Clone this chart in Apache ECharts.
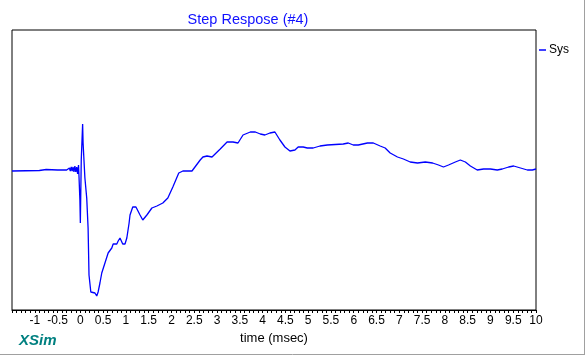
<!DOCTYPE html>
<html><head><meta charset="utf-8">
<script src="https://cdn.jsdelivr.net/npm/echarts@6/dist/echarts.min.js"></script>
<style>html,body{margin:0;padding:0;background:#fff}#c{width:588px;height:357px}</style>
</head><body><div id="c"></div>
<script>
const title = 'Step Respose (#4)';
const seriesName = 'Sys';
const xName = 'time (msec)';
const brand = 'XSim';
const timeMs = [-1.50,-0.90,-0.88,-0.75,-0.74,-0.50,-0.30,-0.28,-0.26,-0.24,-0.22,-0.20,-0.18,-0.16,-0.14,-0.12,-0.10,-0.08,-0.06,-0.04,-0.03,-0.01,0.00,0.02,0.05,0.06,0.10,0.14,0.17,0.19,0.23,0.27,0.32,0.36,0.39,0.43,0.47,0.54,0.61,0.69,0.72,0.80,0.83,0.87,0.93,0.98,1.02,1.07,1.09,1.15,1.22,1.31,1.37,1.46,1.57,1.68,1.81,1.92,2.03,2.16,2.25,2.45,2.63,2.69,2.78,2.89,3.07,3.22,3.35,3.46,3.57,3.73,3.84,3.95,4.05,4.16,4.27,4.38,4.49,4.60,4.71,4.78,4.89,4.98,5.11,5.26,5.42,5.77,5.88,5.99,6.10,6.30,6.43,6.58,6.69,6.80,6.96,7.09,7.24,7.40,7.57,7.73,7.86,7.97,8.08,8.23,8.34,8.45,8.56,8.71,8.85,9.00,9.15,9.26,9.40,9.51,9.66,9.81,9.92,10.0];
const response = [-1,-0.5,0.5,0.5,-0.5,0,0,1,-1,2,-1,3,-1,3,-2,4,-2,3,-4,5,-6,-30,-53,10,46,27,-8,-28,-58,-105,-122,-123,-123,-126,-122,-113,-103,-93,-83,-78,-74,-74,-71,-68,-74,-74,-68,-53,-45,-37,-37,-45,-50,-45,-38,-36,-33,-28,-17,-3,-1,-1,10,13,14,13,21,28,28,27,35,38,38,36,35,37,38,30,23,19,20,23,23,22,22,24,25,26,27,25,25,27,27,24,22,17,13,11,8,7,8,7,5,3,5,8,10,8,4,0,1,1,0,1,3,4,2,0,0,1];
const xTicks = {min: -1.5, max: 10, interval: 0.5};

const chart = echarts.init(document.getElementById('c'));
chart.setOption({
  animation: false,
  backgroundColor: '#fff',
  title: {text: title, left: 243, textAlign: 'center', top: 7,
    textStyle: {color: '#1010ff', fontFamily: 'Liberation Sans, Arial', fontSize: 14.5, fontWeight: 'normal'}},
  legend: {left: 534, top: 39, itemWidth: 7, itemHeight: 1.5, itemGap: 5, icon: 'rect',
    textStyle: {color: '#000', fontFamily: 'Liberation Sans, Arial', fontSize: 12, padding: [0,0,0,-2]}, data: [seriesName]},
  grid: {left: 12, right: 52, top: 30, bottom: 47, show: true, borderColor: '#000', borderWidth: 1},
  xAxis: {type: 'value', min: xTicks.min, max: xTicks.max, interval: xTicks.interval,
    name: xName, nameLocation: 'middle', nameGap: 20,
    nameTextStyle: {color: '#000', fontFamily: 'Liberation Sans, Arial', fontSize: 13},
    axisLine: {show: true, onZero: false, lineStyle: {color: '#000', width: 1}},
    axisTick: {show: true, inside: false, length: 3, lineStyle: {color: '#000'}},
    minorTick: {show: true, splitNumber: 5, length: 3, lineStyle: {color: '#000'}},
    splitLine: {show: false},
    axisLabel: {color: '#000', fontFamily: 'Liberation Sans, Arial', fontSize: 12, margin: 5,
      formatter: v => (Math.abs(v - xTicks.min) < 1e-9 ? '' : String(v))}},
  yAxis: {type: 'value', min: -140, max: 140, show: false},
  graphic: [
    {type: 'text', left: 19, top: 333, style: {text: brand, fill: '#008080', font: 'italic bold 15px Liberation Sans, Arial'}},
    {type: 'line', shape: {x1: 584.5, y1: 0, x2: 584.5, y2: 355}, style: {stroke: '#a0a0a0', lineWidth: 1}},
    {type: 'line', shape: {x1: 0, y1: 354.5, x2: 585, y2: 354.5}, style: {stroke: '#a0a0a0', lineWidth: 1}}
  ],
  series: [{name: seriesName, type: 'line', showSymbol: false, symbol: 'none',
    lineStyle: {color: '#0000ff', width: 1.3}, itemStyle: {color: '#0000ff'},
    data: timeMs.map((t, i) => [t, response[i]])}]
});
</script></body></html>
